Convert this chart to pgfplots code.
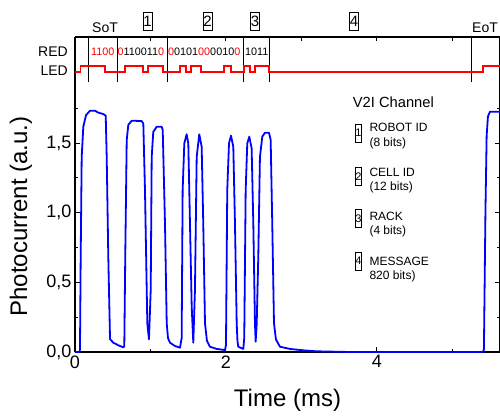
\documentclass[border=0pt]{standalone}
\usepackage{fontspec}
\setmainfont{Liberation Sans}
\usepackage{pgfplots}
\pgfplotsset{compat=1.18}

\definecolor{curveblue}{RGB}{0,0,255}
\definecolor{ledred}{RGB}{255,0,0}

\begin{document}
\begin{tikzpicture}[x=1pt,y=1pt]
\useasboundingbox (-75,-64) rectangle (425,352);

% photocurrent
\begin{axis}[
  at={(0pt,0pt)}, anchor=south west,
  scale only axis, width=425pt, height=270pt,
  xmin=0, xmax=5.63, ymin=0, ymax=1.938,
  axis x line*=bottom,
  x axis line style={-},
  axis line style={line width=1.1pt},
  tick align=inside,
  major tick length=5pt, minor tick length=3pt,
  every tick/.style={black, line width=1pt},
  xtick={0,2,4}, minor xtick={1,3,5},
  ytick={0,0.5,1,1.5}, minor ytick={0.25,0.75,1.25,1.75},
  /pgf/number format/assume math mode=true,
  ticklabel style={font=\fontsize{18}{18}\selectfont},
  yticklabel style={/pgf/number format/.cd, fixed, fixed zerofill, precision=1, use comma},
  clip=false,
]
\addplot[curveblue, line width=1.8pt, line join=round] coordinates {
(0,0) (0.060,0) (0.066,0.02) (0.0755,0.684) (0.0887,1.40) (0.110,1.617)
(0.146,1.70) (0.199,1.732) (0.265,1.732) (0.309,1.718) (0.375,1.708)
(0.407,1.696) (0.420,1.40) (0.441,0.684) (0.464,0.093) (0.507,0.067)
(0.574,0.048) (0.640,0.034)
(0.653,0.04) (0.666,0.70) (0.685,1.52) (0.706,1.63) (0.751,1.66)
(0.883,1.658) (0.905,1.64) (0.927,1.163) (0.958,0.206) (0.980,0.091)
(1.003,0.445) (1.016,1.40) (1.037,1.58) (1.082,1.617) (1.148,1.617)
(1.162,1.594) (1.192,0.924) (1.215,0.206) (1.232,0.10) (1.258,0.067)
(1.325,0.043) (1.391,0.031)
(1.413,0.10) (1.426,1.163) (1.448,1.497) (1.479,1.563) (1.501,1.497)
(1.523,0.924) (1.546,0.325) (1.567,0.067)
(1.589,0.445) (1.612,1.40) (1.646,1.563) (1.678,1.474) (1.699,0.924)
(1.722,0.206) (1.748,0.08) (1.788,0.038) (1.877,0.022) (1.987,0.014)
(2.000,0.05) (2.017,1.163) (2.040,1.497) (2.066,1.553) (2.097,1.474)
(2.119,0.924) (2.142,0.206) (2.152,0.08) (2.163,0.038) (2.229,0.022)
(2.242,0.10) (2.261,1.163) (2.282,1.497) (2.309,1.546) (2.340,1.462)
(2.362,0.924) (2.384,0.206) (2.393,0.074)
(2.407,0.20) (2.428,0.684) (2.450,1.40) (2.481,1.546) (2.517,1.574)
(2.570,1.574) (2.592,1.522) (2.613,0.924) (2.636,0.206) (2.662,0.09)
(2.715,0.038) (2.848,0.022) (3.024,0.012) (3.201,0.005) (3.642,0.0)
(5.404,0.0)
(5.417,0.02) (5.437,1.0) (5.453,1.55) (5.470,1.69) (5.497,1.725) (5.63,1.725)
};
\end{axis}

% LED signal panel
\begin{axis}[
  at={(0pt,270pt)}, anchor=south west,
  scale only axis, width=425pt, height=45pt,
  xmin=0, xmax=5.63, ymin=0, ymax=1,
  axis x line*=top,
  x axis line style={-},
  axis line style={line width=1.1pt},
  tick align=inside,
  major tick length=4pt,
  every tick/.style={black, line width=1pt},
  xtick={1,2,3,4,5}, xticklabels={},
  ytick=\empty,
  clip=false,
]
\addplot[black, line width=0.8pt, ycomb] coordinates {
(0.172,1) (0.556,1) (1.218,1) (2.225,1) (2.570,1) (5.245,1)
};
\addplot[ledred, line width=1.4pt, const plot] coordinates {
(0,0.222) (0.075,0.356) (0.397,0.222) (0.662,0.356) (0.900,0.222)
(0.967,0.356) (1.166,0.222) (1.391,0.356) (1.470,0.222) (1.536,0.356)
(1.669,0.222) (1.973,0.356) (2.066,0.222) (2.238,0.356) (2.318,0.222)
(2.384,0.356) (2.570,0.222) (5.404,0.356) (5.63,0.356)
};
\end{axis}

% axis labels
\node[rotate=90, font=\fontsize{24}{24}\selectfont] at (-54,135.5) {Photocurrent (a.u.)};
\node[font=\fontsize{24}{24}\selectfont] at (212.5,-48) {Time (ms)};

% top panel texts
\node[anchor=east, inner sep=0, font=\fontsize{14}{14}\selectfont] at (-7,300) {RED};
\node[anchor=east, inner sep=0, font=\fontsize{14}{14}\selectfont] at (-7,281) {LED};
\node[font=\fontsize{14}{14}\selectfont] at (30,324.5) {SoT};
\node[font=\fontsize{14}{14}\selectfont] at (410,324.5) {EoT};
\tikzset{numbox/.style={draw, line width=0.7pt, inner sep=0pt, minimum width=9pt, minimum height=18pt, font=\fontsize{15}{15}\selectfont}}
\node[numbox] at (72.5,331) {1};
\node[numbox] at (132.5,331) {2};
\node[numbox] at (180,331) {3};
\node[numbox] at (279,331) {4};

\tikzset{bits/.style={anchor=west, inner sep=0pt, font=\fontsize{10.8}{10.8}\selectfont}}
\node[bits] at (16,300) {\textcolor{ledred}{1100}};
\node[bits] at (42.5,300) {\textcolor{ledred}{0}110011\textcolor{ledred}{0}};
\node[bits] at (93,300) {\textcolor{ledred}{0}0101\textcolor{ledred}{00}0010\textcolor{ledred}{0}};
\node[bits] at (170,300) {1011};

% legend
\tikzset{lbox/.style={draw, line width=0.6pt, inner sep=0pt, minimum width=6.5pt, minimum height=18pt, font=\fontsize{11}{11}\selectfont},
         ltxt/.style={anchor=west, inner sep=0pt, font=\fontsize{12}{12}\selectfont}}
\node[anchor=west, inner sep=0pt, font=\fontsize{14.7}{14.7}\selectfont] at (277.7,249.3) {V2I Channel};
\node[lbox] at (283.5,219) {1};
\node[ltxt] at (294.3,224.3) {ROBOT ID};
\node[ltxt] at (294.3,208.7) {(8 bits)};
\node[lbox] at (283.5,175.5) {2};
\node[ltxt] at (294.3,179.3) {CELL ID};
\node[ltxt] at (294.3,164.3) {(12 bits)};
\node[lbox] at (283.5,133.5) {3};
\node[ltxt] at (294.3,135.3) {RACK};
\node[ltxt] at (294.3,120.3) {(4 bits)};
\node[lbox] at (283.5,91) {4};
\node[ltxt] at (294.3,90.3) {MESSAGE};
\node[ltxt] at (294.3,75.3) {820 bits)};
\end{tikzpicture}
\end{document}
